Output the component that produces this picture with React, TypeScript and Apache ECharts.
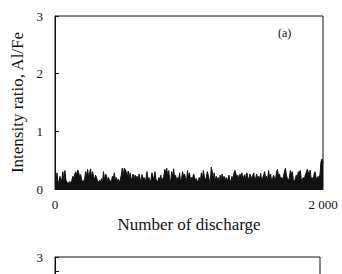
import React, { useEffect, useRef } from "react";
import * as echarts from "echarts";

// Intensity ratio Al/Fe per discharge
const ratioValues: number[] = [
  0.10,0.12,0.28,0.10,0.14,0.22,0.12,0.18,0.30,0.14,0.32,0.16,0.12,0.10,0.11,0.13,0.10,0.15,0.22,0.18,0.26,0.30,0.24,0.33,0.28,0.20,0.25,0.16,0.12,0.14,0.18,0.30,0.22,0.34,0.20,0.28,0.35,0.18,0.30,0.22,0.16,0.24,0.20,0.14,0.12,0.15,
  0.12,0.18,0.10,0.30,0.15,0.26,0.24,0.13,0.20,0.16,0.14,0.12,0.22,0.18,0.28,0.15,0.20,0.13,0.17,0.12,0.16,0.24,0.36,0.22,0.36,0.34,0.30,0.20,0.31,0.18,0.28,0.14,0.20,0.26,0.16,0.24,0.20,0.22,0.14,0.26,0.18,0.12,0.25,0.16,0.20,0.14,
  0.18,0.30,0.14,0.20,0.12,0.16,0.28,0.22,0.15,0.30,0.18,0.12,0.14,0.20,0.16,0.24,0.13,0.18,0.22,0.34,0.28,0.36,0.20,0.32,0.16,0.14,0.30,0.22,0.35,0.18,0.24,0.14,0.20,0.16,0.28,0.12,0.18,0.30,0.22,0.26,0.18,0.14,0.32,0.20,0.28,0.16,
  0.20,0.16,0.26,0.22,0.14,0.18,0.12,0.16,0.20,0.14,0.28,0.18,0.32,0.22,0.15,0.20,0.30,0.24,0.16,0.12,0.38,0.30,0.18,0.28,0.14,0.22,0.16,0.20,0.12,0.24,0.14,0.26,0.18,0.22,0.12,0.20,0.14,0.18,0.24,0.12,0.16,0.22,0.14,0.28,0.32,0.26,
  0.18,0.24,0.14,0.26,0.20,0.28,0.16,0.22,0.25,0.14,0.28,0.20,0.16,0.26,0.22,0.18,0.24,0.28,0.14,0.20,0.26,0.16,0.22,0.18,0.27,0.14,0.20,0.24,0.30,0.18,0.22,0.16,0.32,0.20,0.26,0.14,0.18,0.24,0.20,0.16,0.30,0.34,0.22,0.26,0.18,0.20,
  0.16,0.22,0.30,0.36,0.24,0.18,0.14,0.20,0.32,0.26,0.30,0.16,0.12,0.18,0.24,0.20,0.30,0.28,0.32,0.18,0.14,0.20,0.16,0.24,0.28,0.34,0.30,0.22,0.33,0.18,0.20,0.14,0.26,0.30,0.20,0.16,0.22,0.18,0.26,0.48,0.52,0.44,
];

const maxDischarge = 2000;
const yTicks = [0, 1, 2, 3];
const xTickLabels: Record<number, string> = { 0: "0", 2000: "2 000" };
const panelLabel = "(a)";
const xTitle = "Number of discharge";
const yTitle = "Intensity ratio, Al/Fe";

const FONT = "Liberation Serif, Times New Roman, serif";
const INK = "#111";

export default function App() {
  const ref = useRef<HTMLDivElement>(null);
  useEffect(() => {
    if (!ref.current) return;
    const chart = echarts.init(ref.current, null, { renderer: "svg" });
    const n = ratioValues.length;
    const seriesData = ratioValues.map((v, i) => [(i / (n - 1)) * maxDischarge, v]);
    const yMax = yTicks[yTicks.length - 1];

    const yAxisBase = {
      type: "value" as const,
      min: yTicks[0],
      max: yMax,
      interval: 1,
      axisLine: { show: true, lineStyle: { color: INK, width: 1 } },
      axisTick: { show: true, inside: true, length: 4, lineStyle: { color: INK } },
      axisLabel: { color: INK, fontFamily: FONT, fontSize: 13, margin: 12 },
      splitLine: { show: false },
    };

    chart.setOption({
      animation: false,
      backgroundColor: "#fff",
      grid: [
        { left: 55, right: 19, top: 16, height: 173, show: true, borderColor: INK, borderWidth: 1, containLabel: false },
        { left: 55, right: 22, top: 257, height: 173, show: true, borderColor: INK, borderWidth: 1, containLabel: false },
      ],
      xAxis: [
        {
          gridIndex: 0,
          type: "value",
          min: 0,
          max: maxDischarge,
          interval: 2000,
          axisLine: { show: true, lineStyle: { color: INK } },
          axisTick: { show: false },
          splitLine: { show: false },
          axisLabel: {
            color: INK,
            fontFamily: FONT,
            fontSize: 13,
            margin: 9,
            formatter: (v: number) => xTickLabels[v] ?? "",
          },
          name: xTitle,
          nameLocation: "middle",
          nameGap: 25,
          nameTextStyle: { color: INK, fontFamily: FONT, fontSize: 17 },
        },
        {
          gridIndex: 1,
          type: "value",
          min: 0,
          max: maxDischarge,
          interval: 2000,
          axisLine: { show: true, lineStyle: { color: INK } },
          axisTick: { show: false },
          axisLabel: { show: false },
          splitLine: { show: false },
        },
      ],
      yAxis: [
        {
          ...yAxisBase,
          gridIndex: 0,
          name: yTitle,
          nameLocation: "middle",
          nameGap: 25,
          nameTextStyle: { color: INK, fontFamily: FONT, fontSize: 17 },
        },
        {
          ...yAxisBase,
          gridIndex: 1,
          axisLabel: {
            ...yAxisBase.axisLabel,
            formatter: (v: number) => (v === yMax ? String(v) : ""),
          },
        },
      ],
      series: [
        {
          type: "line",
          xAxisIndex: 0,
          yAxisIndex: 0,
          data: seriesData,
          symbol: "none",
          lineStyle: { color: INK, width: 1 },
          areaStyle: { color: INK, opacity: 1 },
        },
      ],
      graphic: [
        {
          type: "text",
          left: 278,
          top: 27,
          style: { text: panelLabel, fill: INK, font: `12px ${FONT}` },
        },
      ],
    });
    return () => chart.dispose();
  }, []);
  return (
    <div
      ref={ref}
      style={{ position: "fixed", left: 0, top: 0, width: 342, height: 274 }}
    />
  );
}
